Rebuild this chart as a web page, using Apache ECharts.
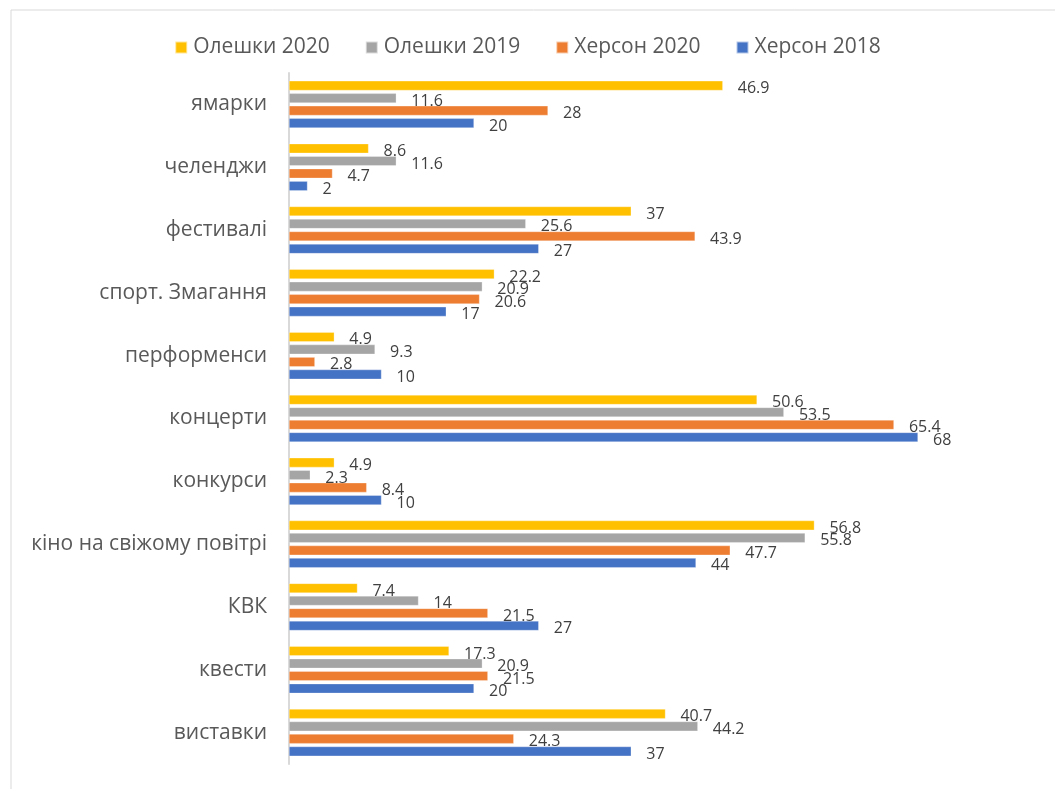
<!DOCTYPE html>
<html>
<head>
<meta charset="utf-8">
<script src="https://cdn.jsdelivr.net/npm/echarts@6/dist/echarts.min.js"></script>
<style>
html,body{margin:0;padding:0;background:#fff;}
#chart{width:1055px;height:789px;}
</style>
</head>
<body>
<div id="chart"></div>
<script>
const categories = ['виставки', 'квести', 'КВК', 'кіно на свіжому повітрі', 'конкурси', 'концерти', 'перформенси', 'спорт. Змагання', 'фестивалі', 'челенджи', 'ямарки'];
const seriesNames = ['Олешки 2020', 'Олешки 2019', 'Херсон 2020', 'Херсон 2018'];
const oleshky2020 = [40.7, 17.3, 7.4, 56.8, 4.9, 50.6, 4.9, 22.2, 37, 8.6, 46.9];
const oleshky2019 = [44.2, 20.9, 14, 55.8, 2.3, 53.5, 9.3, 20.9, 25.6, 11.6, 11.6];
const kherson2020 = [24.3, 21.5, 21.5, 47.7, 8.4, 65.4, 2.8, 20.6, 43.9, 4.7, 28];
const kherson2018 = [37, 20, 27, 44, 10, 68, 10, 17, 27, 2, 20];
const colors = ['#FFC000', '#A5A5A5', '#ED7D31', '#4472C4'];

const FONT = '"Open Sans", sans-serif';
const dataSets = [oleshky2020, oleshky2019, kherson2020, kherson2018];

const chart = echarts.init(document.getElementById('chart'), null, {renderer: 'canvas'});
chart.setOption({
  animation: false,
  backgroundColor: '#fff',
  graphic: [{
    type: 'rect', left: 8.5, top: 7.5, silent: true,
    shape: {width: 1045, height: 800},
    style: {fill: 'none', stroke: '#D9D9D9', lineWidth: 1}
  }],
  legend: {
    top: 32, left: 'center',
    itemWidth: 12, itemHeight: 12, itemGap: 35,
    icon: 'rect',
    textStyle: {fontFamily: FONT, fontSize: 21, color: '#595959', padding: [0, 0, 0, 1]},
    data: seriesNames
  },
  grid: {left: 289, right: 26, top: 73, bottom: 25, containLabel: false},
  xAxis: {
    type: 'value', min: 0, max: 80,
    axisLine: {show: false}, axisTick: {show: false},
    axisLabel: {show: false}, splitLine: {show: false}
  },
  yAxis: {
    type: 'category', data: categories,
    axisLine: {show: true, lineStyle: {color: '#D9D9D9', width: 2}},
    axisTick: {show: false},
    axisLabel: {fontFamily: FONT, fontSize: 21, color: '#595959', margin: 22}
  },
  series: dataSets.map((d, i) => ({
    name: seriesNames[i],
    type: 'bar',
    data: d,
    barCategoryGap: '25%',
    barGap: '30%',
    itemStyle: {color: colors[i], borderColor: 'rgba(255,255,255,0.6)', borderWidth: 0.5},
    label: {
      show: true, position: 'right', distance: 15, offset: [0, 3],
      fontFamily: FONT, fontSize: 16, color: '#404040'
    }
  }))
});
</script>
</body>
</html>
